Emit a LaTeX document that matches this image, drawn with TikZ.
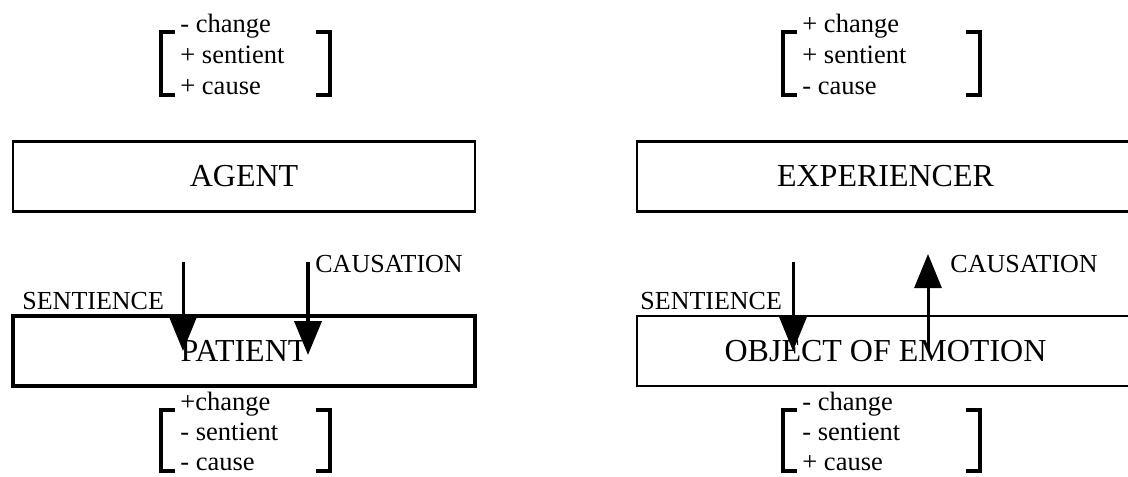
\documentclass[tikz,border=0pt]{standalone}
\usepackage{fontspec}
\setmainfont{Liberation Serif}
\usetikzlibrary{%
    arrows.meta,
    positioning
}

\tikzset{
    role/.style={draw, line width=1.2pt, inner sep=0pt,
                 minimum height=35pt, font=\fontsize{16}{19}\selectfont},
    feat/.style={anchor=base west, inner sep=0pt,
                 font=\fontsize{13.25}{15.5}\selectfont},
    rel/.style={anchor=west, inner sep=0pt, font=\fontsize{13}{15}\selectfont},
    link/.style={line width=1.5pt, -{Triangle[width=13.5pt,length=17pt]}},
    brk/.style={line width=2pt}
}

\begin{document}
\begin{tikzpicture}[x=0.5pt, y=-0.5pt]
    \useasboundingbox (0,0) rectangle (1128,476);
    \clip (0,0) rectangle (1128,476);

    % thematic roles
    \node[role, minimum width=231pt]   (agent)   at (244,176.5)   {AGENT};
    \node[role, minimum width=248.5pt] (exper)   at (885.5,176.5) {EXPERIENCER};
    \node[role, minimum width=231pt, line width=1.6pt]
                                       (patient) at (244,351)     {PATIENT};
    \node[role, minimum width=248.5pt] (object)  at (885.5,351)   {OBJECT OF EMOTION};

    % feature lists
    \foreach \Txt [count=\i] in {- change, + sentient, + cause}
        \node[feat] (agentf-\i) at (180, 2+31*\i) {\Txt};
    \foreach \Txt [count=\i] in {+ change, + sentient, - cause}
        \node[feat] (experf-\i) at (802, 2+31*\i) {\Txt};
    \foreach \Txt [count=\i] in {+change, - sentient, - cause}
        \node[feat] (patientf-\i) at (180, 380+30*\i) {\Txt};
    \foreach \Txt [count=\i] in {- change, - sentient, + cause}
        \node[feat] (objectf-\i) at (802, 380+30*\i) {\Txt};

    \foreach \L/\R/\T/\H in {161/330/32/63, 783/980/32/63,
                             161/330/410/61, 783/980/410/61} {
        \draw[brk] (\L+14,\T) -- (\L,\T) -- (\L,\T+\H) -- (\L+14,\T+\H);
        \draw[brk] (\R-14,\T) -- (\R,\T) -- (\R,\T+\H) -- (\R-14,\T+\H);
    }

    % relations
    \coordinate (senL) at (183,262);
    \coordinate (cauL) at (308,262);
    \coordinate (senR) at (793,262);
    \coordinate (cauR) at (928,254);

    \draw[link] (senL) -- (senL |- patient.center);
    \draw[link, line width=2pt] (cauL) -- ([yshift=-2pt]cauL |- patient.center);
    \draw[link] (senR) -- (senR |- object.center);
    \draw[link] (cauR |- object.center) -- (cauR);

    \node[rel] (sentL) at (22,301)  {SENTIENCE};
    \node[rel] (causL) at (315,264) {CAUSATION};
    \node[rel] (sentR) at (640,301) {SENTIENCE};
    \node[rel] (causR) at (950,264) {CAUSATION};
\end{tikzpicture}
\end{document}
